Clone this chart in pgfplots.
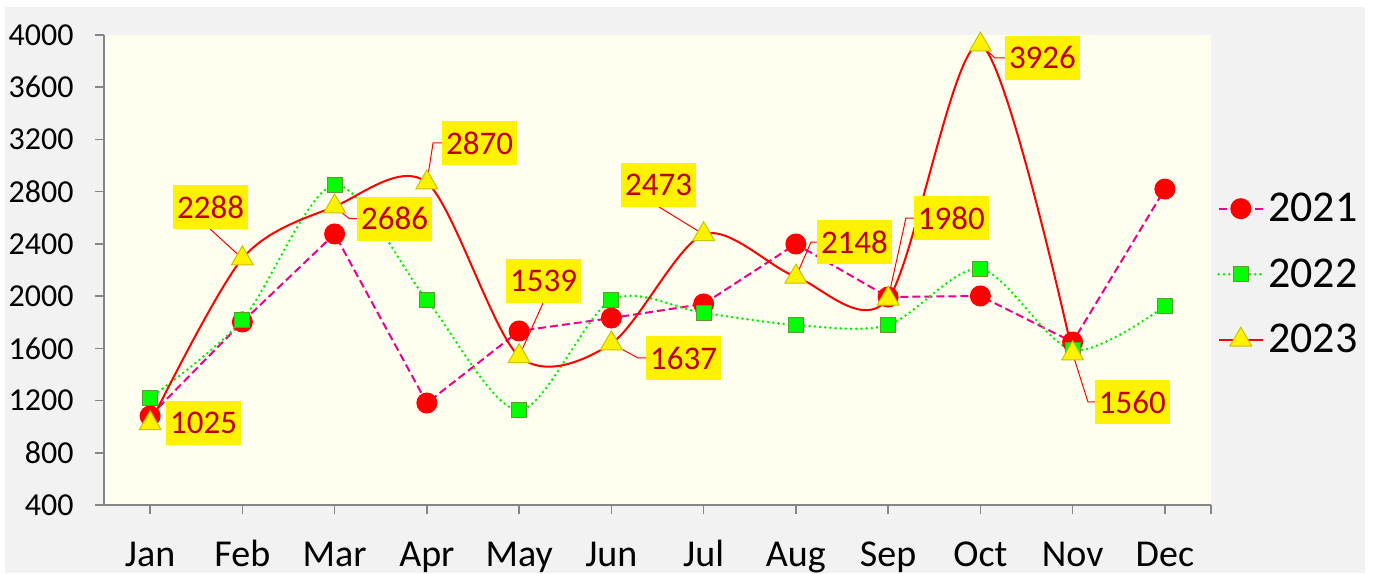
\documentclass[border=0pt]{standalone}
\usepackage{fontspec}
\setmainfont{Carlito}
\usepackage{pgfplots}
\pgfplotsset{compat=1.18}
\definecolor{bgout}{HTML}{F2F2F2}
\definecolor{bgplot}{HTML}{FFFFF0}
\definecolor{axgray}{HTML}{868686}
\definecolor{lblred}{HTML}{C00000}
\definecolor{sqedge}{HTML}{5E9B2E}
\definecolor{triedge}{HTML}{C9C400}
\definecolor{dotgreen}{HTML}{00F000}

% data label: x, y, text
\newcommand{\lbl}[3]{\node[fill=yellow, text=lblred, font=\fontsize{16.5}{19}\selectfont,
  minimum width=37.5pt, minimum height=22pt, inner sep=0pt] at (axis cs:#1,#2) {#3};}

\begin{document}
\begin{tikzpicture}[x=1pt,y=1pt]
\path[use as bounding box] (-52,-34) rectangle (635.5,252.5);
\fill[bgout] (-49.5,-34) rectangle (630.5,249);
\begin{axis}[
  at={(0,0)}, anchor=south west,
  scale only axis, width=553.5pt, height=235pt,
  xmin=-0.5, xmax=11.5, ymin=400, ymax=4000,
  clip=false,
  axis background/.style={fill=bgplot},
  axis x line*=bottom, axis y line*=left,
  axis line style={axgray, line width=0.8pt, -},
  xtick={0,...,11},
  xticklabels={Jan,Feb,Mar,Apr,May,Jun,Jul,Aug,Sep,Oct,Nov,Dec},
  extra x ticks={11.5}, extra x tick labels={},
  ytick={400,800,...,4000},
  tick align=outside, major tick length=4.5pt,
  tick style={axgray, line width=0.8pt},
  /pgf/number format/assume math mode=true,
  /pgf/number format/1000 sep={},
  yticklabel style={font=\fontsize{16}{19}\selectfont, anchor=east, inner sep=0pt, xshift=-10.5pt},
  xticklabel style={font=\fontsize{19}{22}\selectfont, anchor=north, inner sep=0pt,
    text height=12.2pt, text depth=4pt, yshift=-14pt},
  legend style={draw=none, fill=none, at={(1.0,0.491)}, anchor=west,
    font=\fontsize{22}{26}\selectfont, row sep=13pt,
    /tikz/every even column/.append style={column sep=3pt}},
  legend cell align=left,
  legend image code/.code={\draw[mark repeat=2,mark phase=2] plot coordinates {(0pt,0pt) (11pt,0pt) (22pt,0pt)};},
]
\addplot[magenta, line width=1pt, dash pattern=on 4pt off 2pt,
  mark=*, mark size=4.75pt, mark options={solid, fill=red, draw=red}] coordinates {
  (0,1082) (1,1802) (2,2476) (3,1181) (4,1733) (5,1832)
  (6,1940) (7,2399) (8,1993) (9,2001) (10,1648) (11,2820)
};
\addlegendentry{2021}
\addplot[dotgreen, line width=1.4pt, line cap=round, dash pattern=on 0pt off 2.6pt, smooth,
  mark=square*, mark size=3.75pt, mark options={solid, fill=green, draw=sqedge, line width=0.6pt}] coordinates {
  (0,1219) (1,1817) (2,2851) (3,1970) (4,1127) (5,1970)
  (6,1871) (7,1779) (8,1779) (9,2208) (10,1587) (11,1924)
};
\addlegendentry{2022}
\addplot[red, line width=1pt, smooth,
  mark=triangle*, mark size=6.3pt, mark options={solid, fill=yellow, draw=triedge, line width=0.5pt}] coordinates {
  (0,1025) (1,2288) (2,2686) (3,2870) (4,1539) (5,1637)
  (6,2473) (7,2148) (8,1980) (9,3926) (10,1560)
};
\addlegendentry{2023}
% leader lines
\draw[red, line width=0.5pt] (axis cs:1,2288) -- (axis cs:0.650,2514);
\draw[red, line width=0.5pt] (axis cs:2,2686) -- (axis cs:2.157,2594) -- (axis cs:2.243,2594);
\draw[red, line width=0.5pt] (axis cs:3,2870) -- (axis cs:3.067,3173) -- (axis cs:3.165,3173);
\draw[red, line width=0.5pt] (axis cs:4,1539) -- (axis cs:4.259,1947);
\draw[red, line width=0.5pt] (axis cs:5,1637) -- (axis cs:5.289,1526) -- (axis cs:5.376,1526);
\draw[red, line width=0.5pt] (axis cs:6,2473) -- (axis cs:5.516,2683);
\draw[red, line width=0.5pt] (axis cs:7,2148) -- (axis cs:7.164,2414) -- (axis cs:7.23,2414);
\draw[red, line width=0.5pt] (axis cs:8,1980) -- (axis cs:8.193,2598) -- (axis cs:8.279,2598);
\draw[red, line width=0.5pt] (axis cs:9,3926) -- (axis cs:9.158,3824) -- (axis cs:9.266,3824);
\draw[red, line width=0.5pt] (axis cs:10,1560) -- (axis cs:10.166,1189) -- (axis cs:10.241,1189);
% data labels
\lbl{0.580}{1028}{1025}
\lbl{0.656}{2679}{2288}
\lbl{2.650}{2594}{2686}
\lbl{3.571}{3169}{2870}
\lbl{4.265}{2116}{1539}
\lbl{5.782}{1526}{1637}
\lbl{5.511}{2851}{2473}
\lbl{7.635}{2414}{2148}
\lbl{8.686}{2598}{1980}
\lbl{9.673}{3824}{3926}
\lbl{10.648}{1189}{1560}
\end{axis}
\end{tikzpicture}
\end{document}
